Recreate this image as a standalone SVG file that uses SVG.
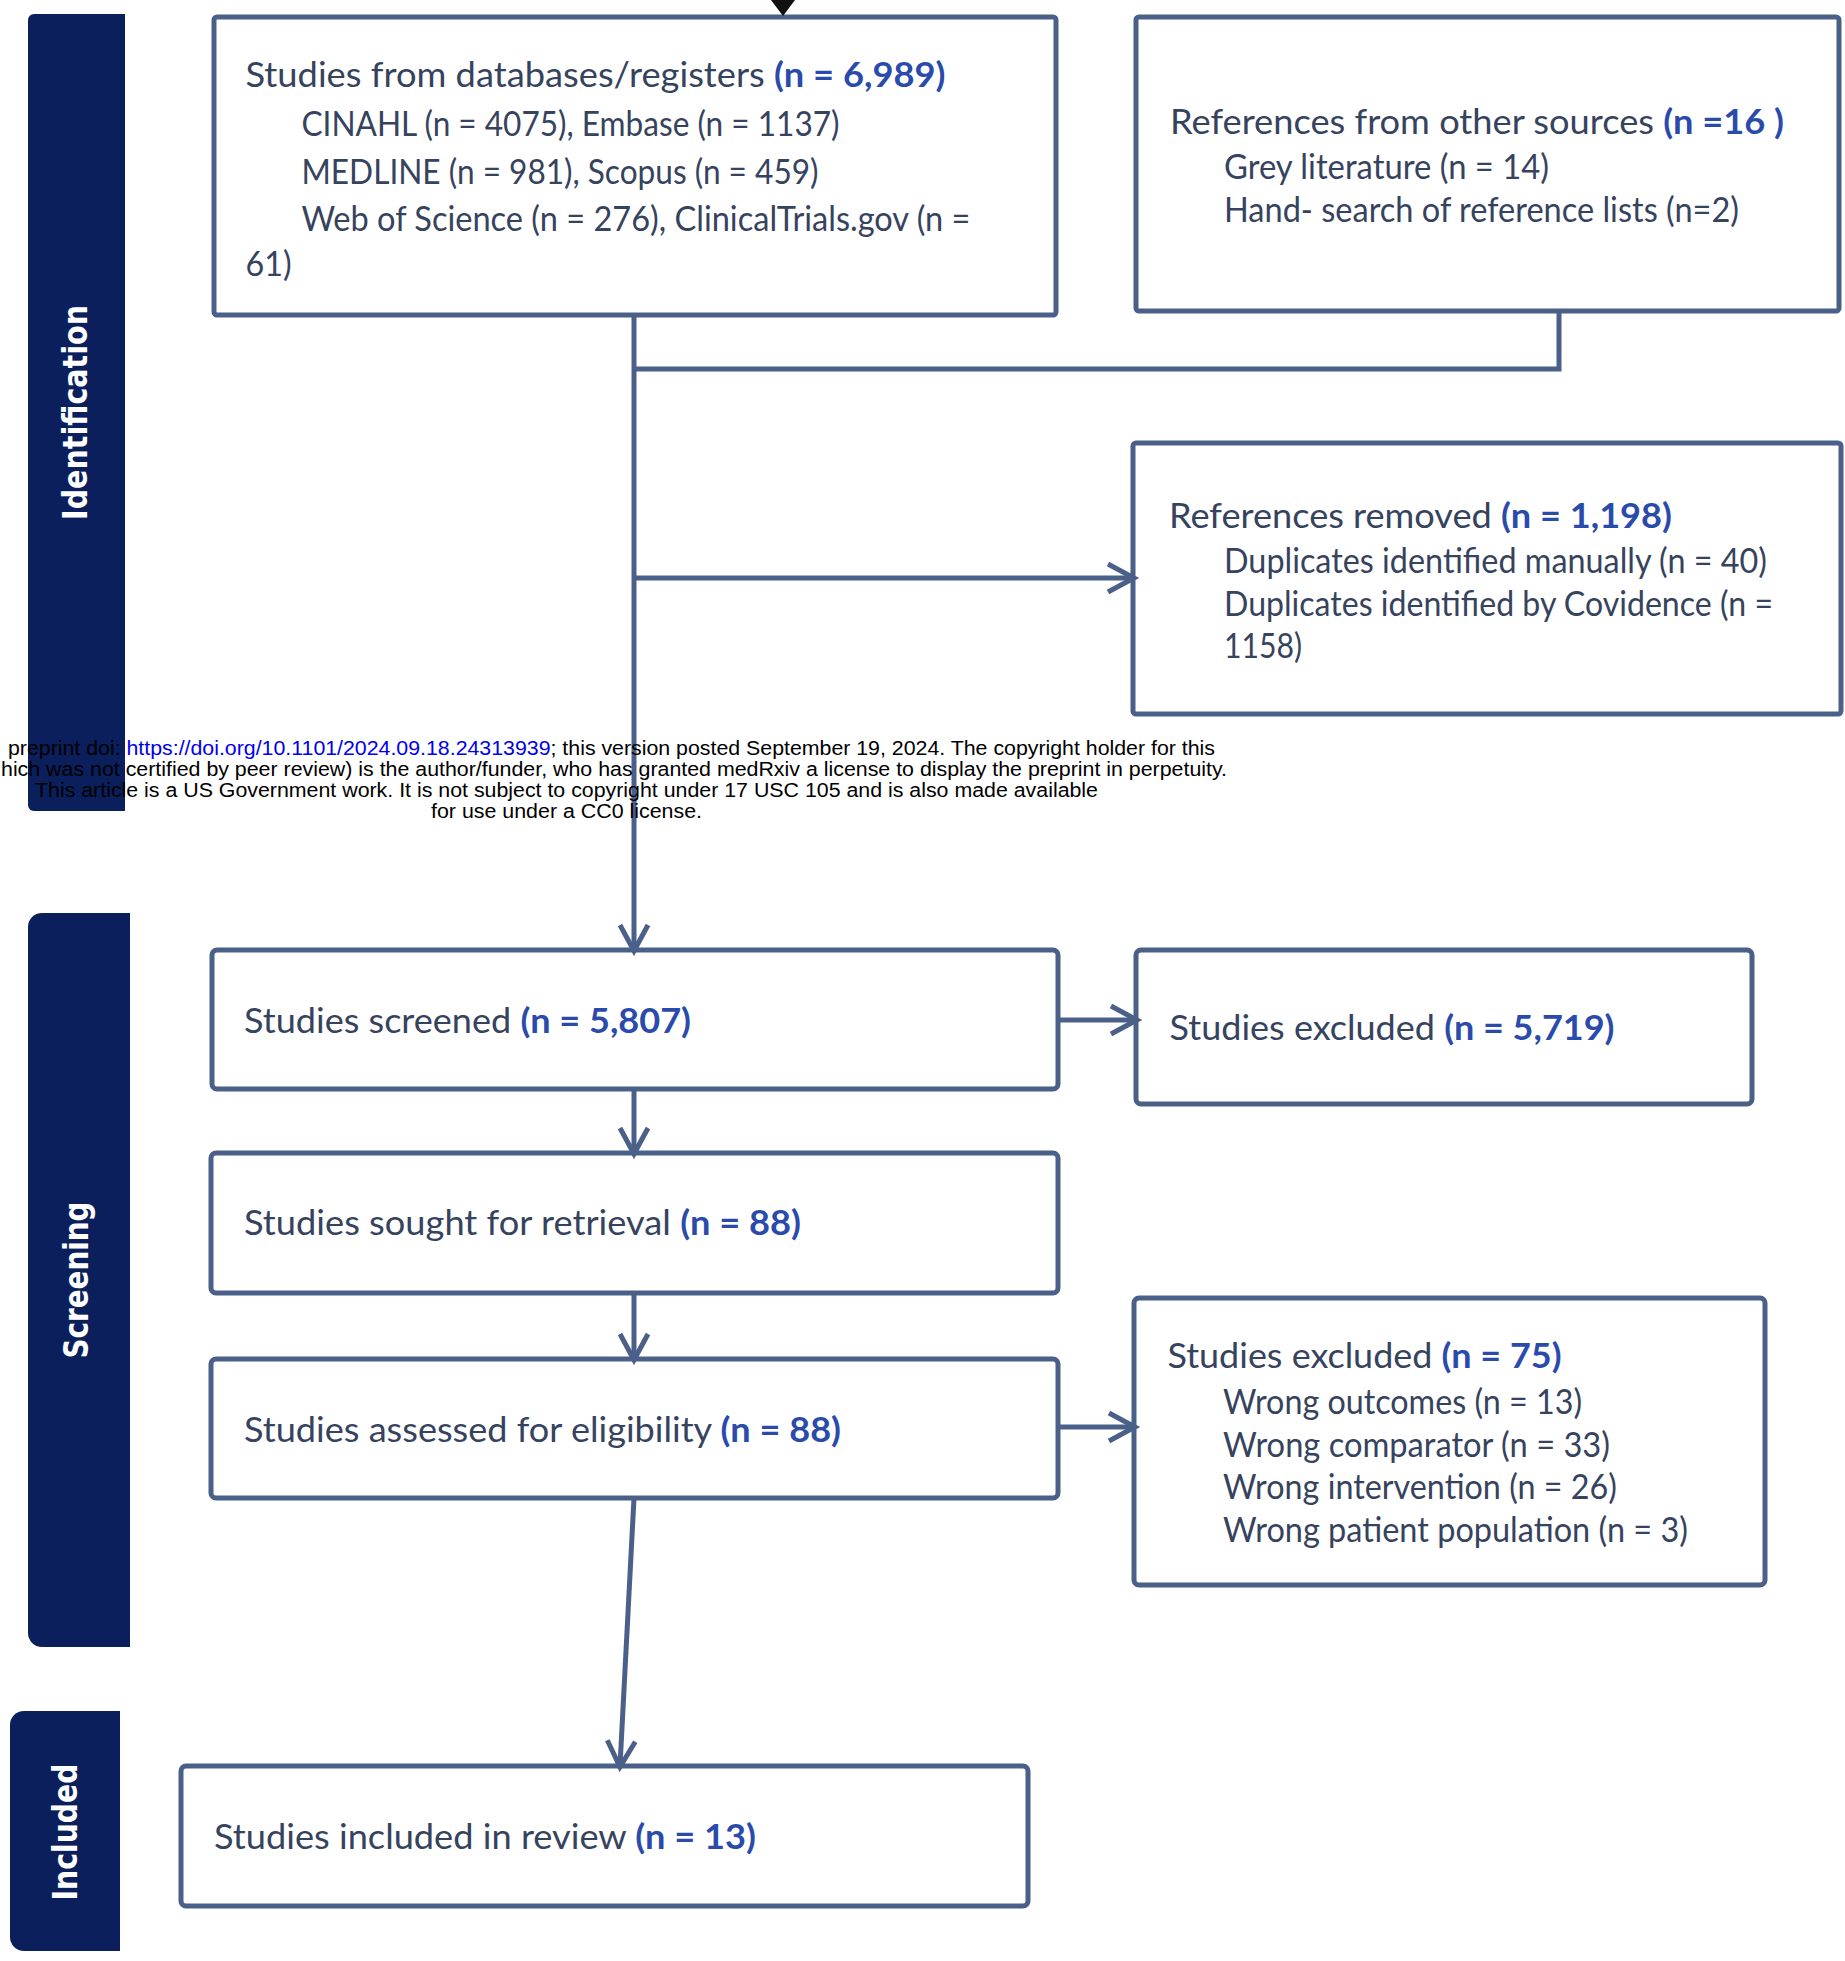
<svg xmlns="http://www.w3.org/2000/svg" width="1845" height="1961" viewBox="0 0 1845 1961">
<defs>
<style>
.box{fill:#fff;stroke:#4b6089;stroke-width:5}
.bar{fill:#0a1f5c}
.lbl{font-family:"DejaVu Sans",Verdana,sans-serif;font-weight:bold;font-size:33px;fill:#fff;text-anchor:middle}
.t{font-family:Lato,"Open Sans",sans-serif;font-size:34px;fill:#36435e}
.n{font-weight:bold;fill:#2a4bab}
.conn{stroke:#4b6089;stroke-width:5;fill:none}
.wm{font-family:"Liberation Sans",Arial,sans-serif;font-size:20px;fill:#000}
.url{fill:#0000ee}
</style>
<marker id="arr" markerUnits="userSpaceOnUse" viewBox="0 0 30 32" refX="26" refY="16" markerWidth="30" markerHeight="32" orient="auto" overflow="visible">
<path d="M1,2 L27,16 L1,30" fill="none" stroke="#4b6089" stroke-width="5"/>
</marker>
</defs>
<rect width="1845" height="1961" fill="#fff"/>

<g id="phase-identification">
<path class="bar" d="M125,14 H34 A6 6 0 0 0 28,20 V805 A6 6 0 0 0 34,811 H125 Z"/>
<text class="lbl" transform="translate(87,412.5) rotate(-90)" textLength="215" lengthAdjust="spacingAndGlyphs">Identification</text>
</g>
<g id="phase-screening">
<path class="bar" d="M130,913 H42 A14 14 0 0 0 28,927 V1633 A14 14 0 0 0 42,1647 H130 Z"/>
<text class="lbl" transform="translate(88,1280) rotate(-90)" textLength="157" lengthAdjust="spacingAndGlyphs">Screening</text>
</g>
<g id="phase-included">
<path class="bar" d="M120,1711 H24 A14 14 0 0 0 10,1725 V1937 A14 14 0 0 0 24,1951 H120 Z"/>
<text class="lbl" transform="translate(77,1832) rotate(-90)" textLength="137" lengthAdjust="spacingAndGlyphs">Included</text>
</g>

<g id="node-databases">
<rect class="box" x="214" y="17" width="842" height="298" rx="3"/>
<text class="t" x="245.5" y="87" textLength="700" lengthAdjust="spacingAndGlyphs">Studies from databases/registers <tspan class="n">(n = 6,989)</tspan></text>
<text class="t" x="301.5" y="136" textLength="538" lengthAdjust="spacingAndGlyphs">CINAHL (n = 4075), Embase (n = 1137)</text>
<text class="t" x="301.5" y="184" textLength="517" lengthAdjust="spacingAndGlyphs">MEDLINE (n = 981), Scopus (n = 459)</text>
<text class="t" x="301.5" y="231" textLength="669" lengthAdjust="spacingAndGlyphs">Web of Science (n = 276), ClinicalTrials.gov (n =</text>
<text class="t" x="245.5" y="276" textLength="46" lengthAdjust="spacingAndGlyphs">61)</text>
</g>

<g id="node-other-sources">
<rect class="box" x="1136" y="17" width="703" height="294" rx="3"/>
<text class="t" x="1170" y="134" textLength="614" lengthAdjust="spacingAndGlyphs">References from other sources <tspan class="n">(n =16 )</tspan></text>
<text class="t" x="1224" y="179" textLength="325" lengthAdjust="spacingAndGlyphs">Grey literature (n = 14)</text>
<text class="t" x="1224" y="222" textLength="515" lengthAdjust="spacingAndGlyphs">Hand- search of reference lists (n=2)</text>
</g>

<g id="node-removed">
<rect class="box" x="1133" y="443" width="708" height="271" rx="3"/>
<text class="t" x="1169" y="528" textLength="503" lengthAdjust="spacingAndGlyphs">References removed <tspan class="n">(n = 1,198)</tspan></text>
<text class="t" x="1224" y="573" textLength="543" lengthAdjust="spacingAndGlyphs">Duplicates identified manually (n = 40)</text>
<text class="t" x="1224" y="616" textLength="549" lengthAdjust="spacingAndGlyphs">Duplicates identified by Covidence (n =</text>
<text class="t" x="1224" y="658" textLength="78" lengthAdjust="spacingAndGlyphs">1158)</text>
</g>

<g id="node-screened">
<rect class="box" x="212" y="950" width="846" height="139" rx="5"/>
<text class="t" x="244" y="1033" textLength="447" lengthAdjust="spacingAndGlyphs">Studies screened <tspan class="n">(n = 5,807)</tspan></text>
</g>

<g id="node-excluded-screen">
<rect class="box" x="1136" y="950" width="616" height="154" rx="5"/>
<text class="t" x="1169.5" y="1040" textLength="445" lengthAdjust="spacingAndGlyphs">Studies excluded <tspan class="n">(n = 5,719)</tspan></text>
</g>

<g id="node-retrieval">
<rect class="box" x="211" y="1153" width="847" height="140" rx="5"/>
<text class="t" x="244" y="1235" textLength="557" lengthAdjust="spacingAndGlyphs">Studies sought for retrieval <tspan class="n">(n = 88)</tspan></text>
</g>

<g id="node-eligibility">
<rect class="box" x="211" y="1359" width="847" height="139" rx="5"/>
<text class="t" x="244" y="1442" textLength="597" lengthAdjust="spacingAndGlyphs">Studies assessed for eligibility <tspan class="n">(n = 88)</tspan></text>
</g>

<g id="node-excluded-full">
<rect class="box" x="1134" y="1298" width="631" height="287" rx="5"/>
<text class="t" x="1167.5" y="1368" textLength="394" lengthAdjust="spacingAndGlyphs">Studies excluded <tspan class="n">(n = 75)</tspan></text>
<text class="t" x="1223" y="1414" textLength="359" lengthAdjust="spacingAndGlyphs">Wrong outcomes (n = 13)</text>
<text class="t" x="1223" y="1457" textLength="387" lengthAdjust="spacingAndGlyphs">Wrong comparator (n = 33)</text>
<text class="t" x="1223" y="1499" textLength="394" lengthAdjust="spacingAndGlyphs">Wrong intervention (n = 26)</text>
<text class="t" x="1223" y="1542" textLength="465" lengthAdjust="spacingAndGlyphs">Wrong patient population (n = 3)</text>
</g>

<g id="node-included">
<rect class="box" x="181" y="1766" width="847" height="140" rx="5"/>
<text class="t" x="214" y="1849" textLength="542" lengthAdjust="spacingAndGlyphs">Studies included in review <tspan class="n">(n = 13)</tspan></text>
</g>

<g id="connectors">
<polygon points="771,0 795,0 783,16" fill="#111"/>
<path class="conn" d="M1559,311 V369 H634"/>
<path class="conn" d="M634,315 V950" marker-end="url(#arr)"/>
<path class="conn" d="M634,578 H1133" marker-end="url(#arr)"/>
<path class="conn" d="M1058,1020 H1136" marker-end="url(#arr)"/>
<path class="conn" d="M634,1089 V1153" marker-end="url(#arr)"/>
<path class="conn" d="M634,1293 V1359" marker-end="url(#arr)"/>
<path class="conn" d="M1058,1427 H1134" marker-end="url(#arr)"/>
<path class="conn" d="M634,1498 L620,1766" marker-end="url(#arr)"/>
</g>

<g id="watermark">
<text class="wm" x="8" y="755" textLength="1207" lengthAdjust="spacingAndGlyphs">preprint doi: <tspan class="url">https://doi.org/10.1101/2024.09.18.24313939</tspan>; this version posted September 19, 2024. The copyright holder for this</text>
<text class="wm" x="1" y="776" textLength="1226" lengthAdjust="spacingAndGlyphs">hich was not certified by peer review) is the author/funder, who has granted medRxiv a license to display the preprint in perpetuity.</text>
<text class="wm" x="35" y="797" textLength="1063" lengthAdjust="spacingAndGlyphs">This article is a US Government work. It is not subject to copyright under 17 USC 105 and is also made available</text>
<text class="wm" x="431" y="818" textLength="271" lengthAdjust="spacingAndGlyphs">for use under a CC0 license.</text>
</g>
</svg>
